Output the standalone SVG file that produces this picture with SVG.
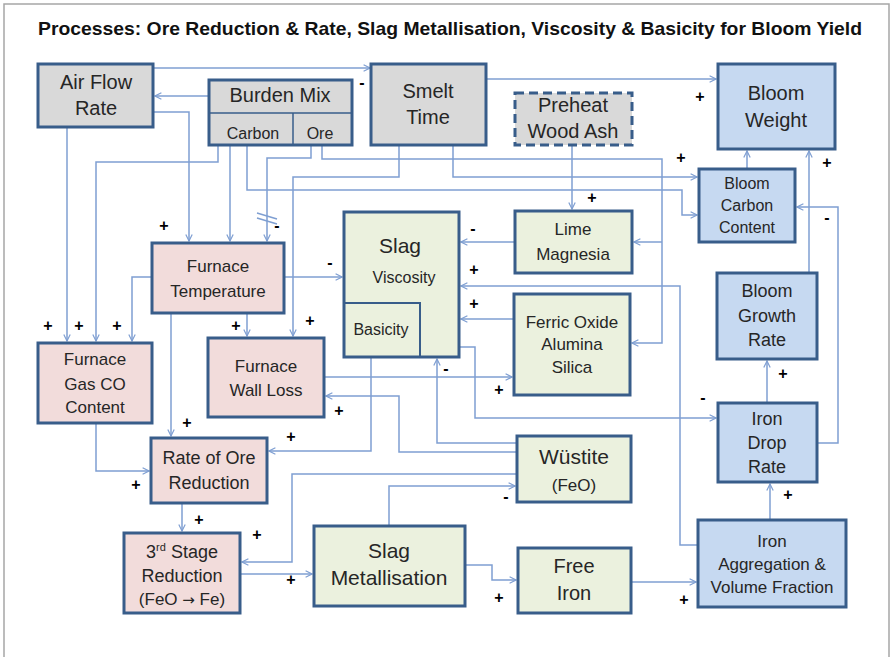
<svg xmlns="http://www.w3.org/2000/svg" width="893" height="657" viewBox="0 0 893 657">
<style>
.n{stroke:#385d8a;stroke-width:3}
.g{fill:#d9d9d9}.p{fill:#f2dcdb}.e{fill:#ebf1de}.b{fill:#c6d9f1}
.t{font-family:"Liberation Sans",Arial,sans-serif;fill:#262626;text-anchor:middle}
.c path{fill:none;stroke:#7f9fd2;stroke-width:1.5;marker-end:url(#ah)}
.s{font-family:"Liberation Sans",Arial,sans-serif;font-weight:bold;font-size:16px;fill:#000;text-anchor:middle}
</style>
<defs>
<marker id="ah" viewBox="0 0 10 10" refX="9" refY="5" markerWidth="8" markerHeight="10" markerUnits="userSpaceOnUse" orient="auto">
<path d="M1,1 L9,5 L1,9" fill="none" stroke="#7f9fd2" stroke-width="1.5"/>
</marker>
</defs>
<rect x="0" y="0" width="893" height="657" fill="#fff"/>
<rect x="4" y="4" width="885" height="670" fill="#fff" stroke="#a6a6a6" stroke-width="1.5"/>
<text x="38" y="35" font-family="Liberation Sans,Arial,sans-serif" font-weight="bold" font-size="19" fill="#111" textLength="824" lengthAdjust="spacingAndGlyphs">Processes: Ore Reduction &amp; Rate, Slag Metallisation, Viscosity &amp; Basicity for Bloom Yield</text>

<g id="connectors" class="c">
<path d="M153,68 H370"/>
<path d="M209,96 H155"/>
<path d="M153,112 H189 V241"/>
<path d="M67,127 V341"/>
<path d="M218,145 V162 H96 V341"/>
<path d="M230,145 V241"/>
<path d="M247,145 V190 H682 V215 H697"/>
<path d="M311,145 V158 H267 V241"/>
<path d="M322,145 V159 H662 V343 H632"/>
<path d="M662,242 H634"/>
<path d="M399,145 V177 H293 V336"/>
<path d="M453,145 V177 H697"/>
<path d="M486,79 H716"/>
<path d="M572,145 V209"/>
<path d="M747,169 V151"/>
<path d="M809,273 V151"/>
<path d="M767,403 V361"/>
<path d="M817,443 H838 V207 H797"/>
<path d="M770,520 V484"/>
<path d="M631,582 H696"/>
<path d="M465,565 H492 V580 H516"/>
<path d="M389,526 V486 H515"/>
<path d="M240,574 H312"/>
<path d="M182,503 V531"/>
<path d="M96,423 V471 H149"/>
<path d="M171,313 V436"/>
<path d="M247,313 V336"/>
<path d="M284,277 H342"/>
<path d="M152,277 H132 V341"/>
<path d="M371,357 V451 H269"/>
<path d="M517,474 H292 V562 H242"/>
<path d="M517,452 H399 V396 H326"/>
<path d="M517,443 H437 V359"/>
<path d="M324,377 H512"/>
<path d="M459,347 H475 V418 H716"/>
<path d="M698,545 H680 V286 H461"/>
<path d="M514,319 H461"/>
<path d="M515,242 H461"/>
<path d="M257,213 L277,219 M257,218 L277,224" style="marker-end:none"/>
</g>

<g id="air-flow-rate"><rect class="n g" x="38" y="64" width="115" height="63"/>
<text class="t" font-size="20" x="96" y="89">Air Flow</text><text class="t" font-size="20" x="96" y="115">Rate</text></g>

<g id="burden-mix"><rect class="n g" x="209" y="80" width="143" height="65"/>
<path d="M209,113 H352 M293,113 V145" stroke="#385d8a" stroke-width="1.5"/>
<text class="t" font-size="20" x="280" y="102">Burden Mix</text>
<text class="t" font-size="16" x="253" y="139">Carbon</text><text class="t" font-size="16" x="320" y="139">Ore</text></g>

<g id="smelt-time"><rect class="n g" x="371" y="64" width="115" height="81"/>
<text class="t" font-size="20" x="428" y="98">Smelt</text><text class="t" font-size="20" x="428" y="124">Time</text></g>

<g id="preheat-wood-ash"><rect class="n g" x="515" y="93" width="117" height="52" stroke-dasharray="9,5"/>
<text class="t" font-size="20" x="573" y="112">Preheat</text><text class="t" font-size="20" x="573" y="138">Wood Ash</text></g>

<g id="bloom-weight"><rect class="n b" x="718" y="64" width="117" height="85"/>
<text class="t" font-size="20" x="776" y="100">Bloom</text><text class="t" font-size="20" x="776" y="127">Weight</text></g>

<g id="bloom-carbon-content"><rect class="n b" x="699" y="169" width="96" height="73"/>
<text class="t" font-size="16" x="747" y="189">Bloom</text><text class="t" font-size="16" x="747" y="211">Carbon</text><text class="t" font-size="16" x="747" y="233">Content</text></g>

<g id="bloom-growth-rate"><rect class="n b" x="717" y="273" width="100" height="86"/>
<text class="t" font-size="18" x="767" y="297">Bloom</text><text class="t" font-size="18" x="767" y="322">Growth</text><text class="t" font-size="18" x="767" y="346">Rate</text></g>

<g id="iron-drop-rate"><rect class="n b" x="718" y="403" width="99" height="79"/>
<text class="t" font-size="18" x="767" y="425">Iron</text><text class="t" font-size="18" x="767" y="449">Drop</text><text class="t" font-size="18" x="767" y="473">Rate</text></g>

<g id="iron-aggregation"><rect class="n b" x="698" y="520" width="148" height="87"/>
<text class="t" font-size="17" x="772" y="547">Iron</text><text class="t" font-size="17" x="772" y="570">Aggregation &amp;</text><text class="t" font-size="17" x="772" y="593">Volume Fraction</text></g>

<g id="furnace-temperature"><rect class="n p" x="152" y="243" width="132" height="70"/>
<text class="t" font-size="17" x="218" y="272">Furnace</text><text class="t" font-size="17" x="218" y="297">Temperature</text></g>

<g id="furnace-gas-co"><rect class="n p" x="38" y="343" width="114" height="80"/>
<text class="t" font-size="17" x="95" y="365">Furnace</text><text class="t" font-size="17" x="95" y="390">Gas CO</text><text class="t" font-size="17" x="95" y="413">Content</text></g>

<g id="furnace-wall-loss"><rect class="n p" x="208" y="338" width="116" height="79"/>
<text class="t" font-size="17" x="266" y="372">Furnace</text><text class="t" font-size="17" x="266" y="396">Wall Loss</text></g>

<g id="rate-of-ore-reduction"><rect class="n p" x="151" y="438" width="116" height="65"/>
<text class="t" font-size="18" x="209" y="464">Rate of Ore</text><text class="t" font-size="18" x="209" y="489">Reduction</text></g>

<g id="third-stage-reduction"><rect class="n p" x="124" y="533" width="116" height="80"/>
<text class="t" font-size="18" x="182" y="558">3<tspan font-size="11" dy="-7">rd</tspan><tspan dy="7"> Stage</tspan></text>
<text class="t" font-size="18" x="182" y="582">Reduction</text><text class="t" font-size="17" x="182" y="605">(FeO <tspan font-family="DejaVu Sans,sans-serif" font-size="15">→</tspan> Fe)</text></g>

<g id="slag-metallisation"><rect class="n e" x="314" y="526" width="151" height="80"/>
<text class="t" font-size="21" x="389" y="558">Slag</text><text class="t" font-size="21" x="389" y="585">Metallisation</text></g>

<g id="free-iron"><rect class="n e" x="518" y="548" width="113" height="65"/>
<text class="t" font-size="20" x="574" y="573">Free</text><text class="t" font-size="20" x="574" y="600">Iron</text></g>

<g id="wustite"><rect class="n e" x="517" y="436" width="114" height="66"/>
<text class="t" font-size="21" x="574" y="464">Wüstite</text><text class="t" font-size="17" x="574" y="491">(FeO)</text></g>

<g id="slag"><rect class="n e" x="344" y="212" width="115" height="145"/>
<rect x="344" y="303" width="76" height="54" fill="none" stroke="#385d8a" stroke-width="2"/>
<text class="t" font-size="21" x="400" y="253">Slag</text><text class="t" font-size="16" x="404" y="283">Viscosity</text>
<text class="t" font-size="16" x="381" y="335">Basicity</text></g>

<g id="lime-magnesia"><rect class="n e" x="515" y="211" width="117" height="62"/>
<text class="t" font-size="17" x="573" y="235">Lime</text><text class="t" font-size="17" x="573" y="260">Magnesia</text></g>

<g id="ferric-oxide"><rect class="n e" x="514" y="294" width="116" height="101"/>
<text class="t" font-size="17" x="572" y="328">Ferric Oxide</text><text class="t" font-size="17" x="572" y="350">Alumina</text><text class="t" font-size="17" x="572" y="373">Silica</text></g>

<g id="polarity">
<text class="s" x="362" y="88">-</text>
<text class="s" x="700" y="102">+</text>
<text class="s" x="681" y="163">+</text>
<text class="s" x="827" y="168">+</text>
<text class="s" x="592" y="203">+</text>
<text class="s" x="827" y="223">-</text>
<text class="s" x="783" y="379">+</text>
<text class="s" x="703" y="403">-</text>
<text class="s" x="788" y="500">+</text>
<text class="s" x="684" y="605">+</text>
<text class="s" x="499" y="603">+</text>
<text class="s" x="506" y="502">-</text>
<text class="s" x="291" y="585">+</text>
<text class="s" x="257" y="540">+</text>
<text class="s" x="199" y="525">+</text>
<text class="s" x="136" y="490">+</text>
<text class="s" x="291" y="442">+</text>
<text class="s" x="187" y="428">+</text>
<text class="s" x="339" y="416">+</text>
<text class="s" x="499" y="395">+</text>
<text class="s" x="446" y="374">-</text>
<text class="s" x="474" y="309">+</text>
<text class="s" x="474" y="275">+</text>
<text class="s" x="473" y="234">-</text>
<text class="s" x="330" y="268">-</text>
<text class="s" x="48" y="331">+</text>
<text class="s" x="79" y="331">+</text>
<text class="s" x="117" y="331">+</text>
<text class="s" x="236" y="331">+</text>
<text class="s" x="310" y="326">+</text>
<text class="s" x="164" y="231">+</text>
<text class="s" x="277" y="231">-</text>
</g>
</svg>
